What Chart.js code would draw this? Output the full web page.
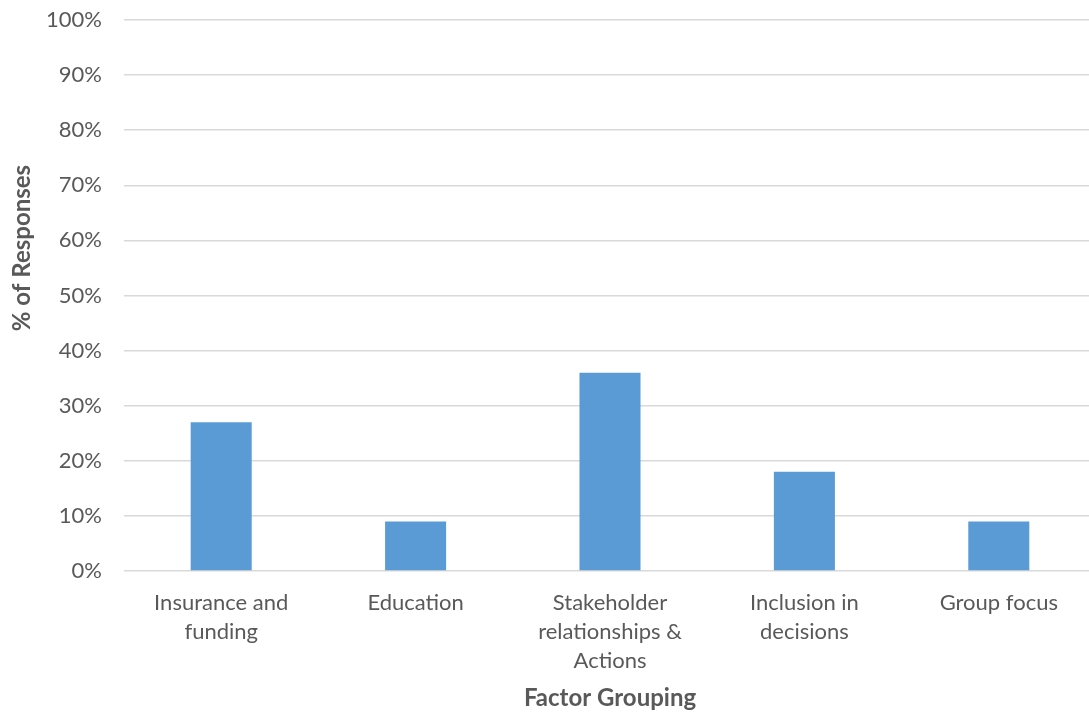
<!DOCTYPE html>
<html>
<head>
<meta charset="utf-8">
<script src="https://cdn.jsdelivr.net/npm/chart.js@4"></script>
<style>
html,body{margin:0;padding:0;background:#fff;overflow:hidden;}
#wrap{width:1096px;height:715px;position:relative;}
</style>
</head>
<body>
<div id="wrap"><canvas id="c" width="1096" height="715"></canvas></div>
<script>
const categories = [["Insurance and","funding"],["Education"],["Stakeholder","relationships &","Actions"],["Inclusion in","decisions"],["Group focus"]];
const values = [27, 9, 36, 18, 9];
const yTicks = [0,10,20,30,40,50,60,70,80,90,100];
const xTitle = "Factor Grouping";
const yTitle = "% of Responses";

const FONT = "Lato, 'Open Sans', sans-serif";
const gray = "#595959";

const yTitlePlugin = {
  id: 'yTitle',
  afterDraw(chart){
    const ctx = chart.ctx;
    ctx.save();
    ctx.translate(22, 248);
    ctx.rotate(-Math.PI/2);
    ctx.font = "bold 24px " + FONT;
    ctx.fillStyle = gray;
    ctx.textAlign = "center";
    ctx.textBaseline = "middle";
    ctx.fillText(yTitle, 0, 0);
    ctx.restore();
  }
};

new Chart(document.getElementById('c'), {
  type: 'bar',
  data: {
    labels: categories,
    datasets: [{
      data: values,
      backgroundColor: '#5B9BD5',
      borderWidth: 0,
      barPercentage: 0.314,
      categoryPercentage: 1.0
    }]
  },
  options: {
    responsive: false,
    animation: false,
    devicePixelRatio: 1,
    layout: { padding: { top: 20, right: 0, left: 0, bottom: 0 } },
    plugins: { legend: { display: false }, tooltip: { enabled: false } },
    scales: {
      x: {
        grid: { display: false, drawTicks: false },
        border: { display: false },
        ticks: { color: gray, font: { family: FONT, size: 22, lineHeight: 1.3 }, padding: 18, maxRotation: 0, autoSkip: false },
        title: { display: true, text: xTitle, color: gray, font: { family: FONT, size: 24, weight: 'bold' }, padding: { top: 0, bottom: 2 } },
        afterFit(scale){ scale.height = 144; scale.paddingLeft = 0; scale.paddingRight = 0; }
      },
      y: {
        min: 0, max: 100,
        afterBuildTicks(scale){ scale.ticks = yTicks.map(v => ({ value: v })); },
        grid: { color: '#d9d9d9', lineWidth: 1.5, drawTicks: false },
        border: { display: false },
        ticks: { color: gray, font: { family: FONT, size: 22 }, padding: 22, callback: v => v + '%' },
        afterFit(scale){ scale.width = 124; scale.paddingTop = 0; scale.paddingBottom = 0; }
      }
    }
  },
  plugins: [yTitlePlugin]
});
</script>
</body>
</html>
